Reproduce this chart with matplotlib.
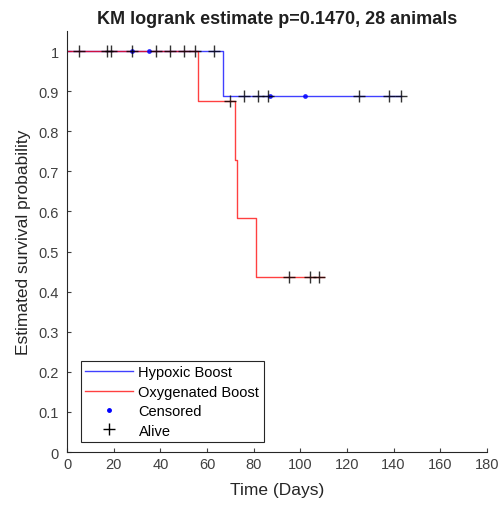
import matplotlib
matplotlib.use('Agg')
import matplotlib.pyplot as plt
from matplotlib.lines import Line2D

plt.rcParams['font.family'] = ['Liberation Sans', 'DejaVu Sans']

# Kaplan-Meier steps
hyp_days = [0, 67, 143]
hyp_surv = [1.0, 0.889, 0.889]
oxy_days = [0, 56, 72, 73, 81, 110]
oxy_surv = [1.0, 0.875, 0.729, 0.583, 0.4375, 0.4375]

# censored (blue dots) and alive (+) marks
cens_days = [28, 35, 87, 102]
cens_surv = [1.0, 1.0, 0.889, 0.889]
alive_days = [5, 17, 19, 28, 38, 44, 50, 55, 63, 70, 76, 82, 86, 125, 138, 143, 95, 104, 108]
alive_surv = [1.0] * 9 + [0.875] + [0.889] * 6 + [0.4375] * 3

xticks = list(range(0, 181, 20))
yticks = [i / 10 for i in range(11)]
yticklabels = ['0'] + ['%.1f' % v for v in yticks[1:-1]] + ['1']

fig = plt.figure(figsize=(5.02, 5.06), dpi=100)
ax = fig.add_axes([0.1335, 0.1047, 0.8365, 0.832])

ax.step(hyp_days, hyp_surv, where='post', color='#0000ff', lw=1.0, alpha=0.75)
ax.step(oxy_days, oxy_surv, where='post', color='#ff0000', lw=1.0, alpha=0.75)
ax.plot(cens_days, cens_surv, '.', color='#0000ff', ms=5, alpha=0.75)
ax.plot(alive_days, alive_surv, '+', color='black', ms=8.5, mew=1.0, alpha=0.8)

ax.set_xlim(0, 180)
ax.set_ylim(0, 1.05)
ax.set_xticks(xticks)
ax.set_yticks(yticks)
ax.set_yticklabels(yticklabels)
for s in ['top', 'right']:
    ax.spines[s].set_visible(False)
for s in ['left', 'bottom']:
    ax.spines[s].set_color('#262626')
ax.tick_params(direction='in', length=3, labelsize=10.5, colors='#404040')
ax.tick_params(axis='y', pad=6)
ax.set_xlabel('Time (Days)', fontsize=12.5, color='#262626', labelpad=8)
ax.set_ylabel('Estimated survival probability', fontsize=12.5, color='#262626', labelpad=5)
ax.set_title('KM logrank estimate p=0.1470, 28 animals', fontsize=13, fontweight='bold',
             color='#202020', pad=6)

handles = [
    Line2D([], [], color='#0000ff', lw=1.0, alpha=0.75),
    Line2D([], [], color='#ff0000', lw=1.0, alpha=0.75),
    Line2D([], [], color='#0000ff', marker='.', ls='none', ms=5),
    Line2D([], [], color='black', marker='+', ls='none', ms=9),
]
leg = ax.legend(handles, ['Hypoxic Boost', 'Oxygenated Boost', 'Censored', 'Alive'],
                loc='lower left', bbox_to_anchor=(0.033, 0.024), fontsize=10.5,
                fancybox=False, framealpha=1, edgecolor='#262626',
                handlelength=3.3, borderpad=0.3, labelspacing=0.37, handletextpad=0.35,
                borderaxespad=0)
leg.get_frame().set_linewidth(0.8)

fig.savefig('out.png', dpi=100)
